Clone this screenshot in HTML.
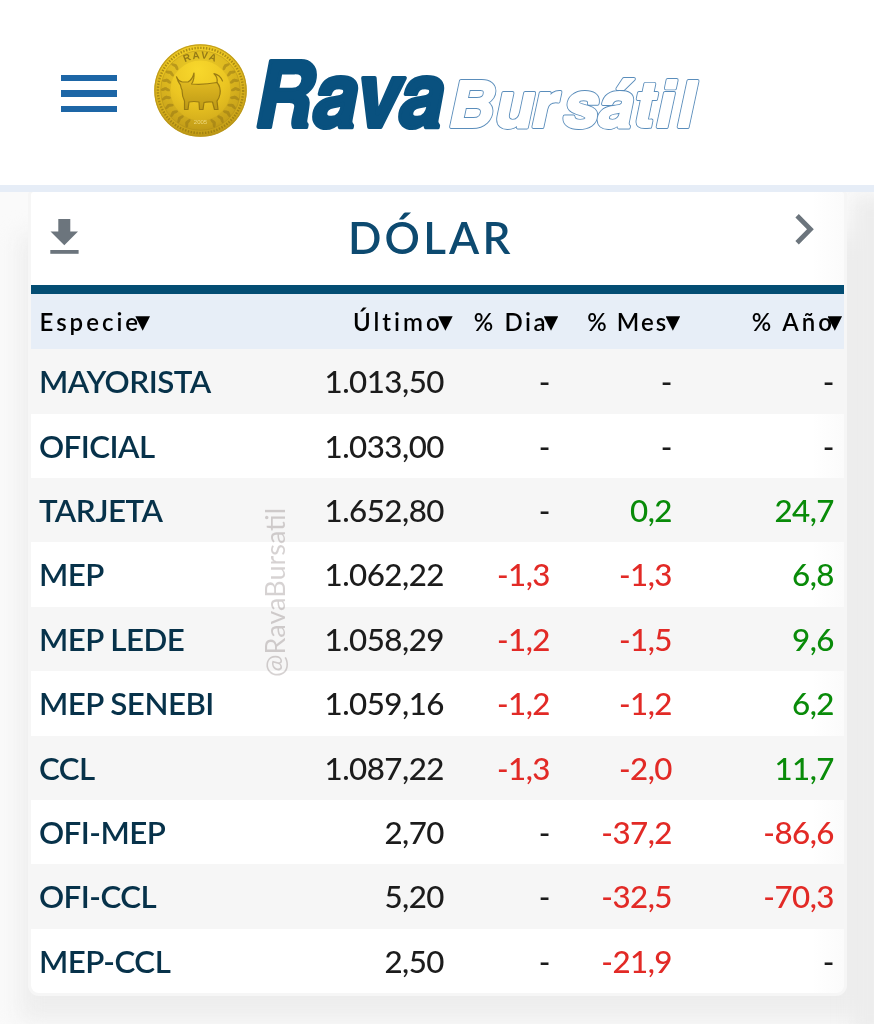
<!DOCTYPE html>
<html lang="es">
<head>
<meta charset="utf-8">
<title>Rava Bursátil - Dólar</title>
<style>
html,body{margin:0;padding:0;}
body{width:874px;height:1024px;position:relative;overflow:hidden;background:#fafafa;font-family:"Lato","Liberation Sans",sans-serif;}
.top{position:absolute;left:0;top:0;width:874px;height:185px;background:#fff;}
.sep{position:absolute;left:0;top:185px;width:874px;height:7px;background:#e6edf7;z-index:2;}
.top{z-index:2;}
.ham{position:absolute;left:61.2px;width:55.4px;height:6.2px;background:#1d66a6;}
.coin{position:absolute;left:154px;top:44px;}
.rava{position:absolute;left:250px;top:40px;}
.card{position:absolute;left:31px;top:192px;width:813px;height:801.3px;background:#fff;border-radius:3px 3px 8px 8px;overflow:hidden;box-shadow:0 0 0 3px #f6f6f6;}
.shd{position:absolute;left:20px;top:235px;width:900px;height:785px;background:#ededed;filter:blur(11px);}
.shdr{position:absolute;left:852px;top:196px;width:80px;height:840px;background:#ededed;filter:blur(9px);}
.fade{position:absolute;right:0;top:0;width:32px;height:801px;background:linear-gradient(90deg,rgba(240,240,240,0),rgba(240,240,240,.28));}
.dl{position:absolute;left:0;top:0;}
.title{position:absolute;left:317px;top:0;font-size:44px;letter-spacing:3.15px;color:#0d4a70;font-weight:600;line-height:91px;white-space:nowrap;}
.band{position:absolute;left:0;top:92.8px;width:813px;height:9.3px;background:#034d73;}
.hdr{position:absolute;left:0;top:102px;width:813px;height:55.3px;background:#e7eef7;}
.hdr span{position:absolute;top:0;line-height:56px;font-size:24px;letter-spacing:3px;color:#000;font-weight:600;white-space:nowrap;}
.tri{position:absolute;top:22.2px;width:14.6px;height:14.6px;background:#000;clip-path:polygon(0 0,100% 0,50% 100%);}
.row{position:absolute;left:0;width:813px;height:64.4px;}
.row:nth-child(odd){background:#f6f6f6;}
.row span{position:absolute;top:0;line-height:64.4px;font-size:31.3px;letter-spacing:-0.5px;white-space:nowrap;}
.n{left:7.9px;color:#07324a;font-weight:600;}
.c1{right:400px;color:#1c1c1c;font-weight:500;}
.c2{right:294px;font-weight:500;}
.c3{right:172px;font-weight:500;}
.c4{right:10px;font-weight:500;}
.r{color:#e22a26;}
.g{color:#098b09;}
.k{color:#1c1c1c;}
.wm{position:absolute;left:228.5px;top:484.5px;transform:rotate(-90deg);transform-origin:0 0;font-size:27px;line-height:30px;color:rgba(50,30,30,.2);white-space:nowrap;}
</style>
</head>
<body>
<div class="top">
  <div class="ham" style="top:74.9px"></div>
  <div class="ham" style="top:90.4px"></div>
  <div class="ham" style="top:105.8px"></div>
  <svg class="coin" viewBox="0 0 93 93" width="93" height="93">
    <defs>
      <radialGradient id="cg" cx="47%" cy="28%" r="75%">
        <stop offset="0" stop-color="#f8d82c"/>
        <stop offset="0.45" stop-color="#ebc522"/>
        <stop offset="0.8" stop-color="#d1aa1b"/>
        <stop offset="1" stop-color="#b89314"/>
      </radialGradient>
      <linearGradient id="bg2" x1="0" y1="0" x2="0" y2="1">
        <stop offset="0" stop-color="#e9c223"/>
        <stop offset="0.5" stop-color="#cfa81c"/>
        <stop offset="1" stop-color="#b39015"/>
      </linearGradient>
      <path id="arc" d="M14.5 46.5 A32 32 0 0 1 78.5 46.5"/>
    </defs>
    <circle cx="46.5" cy="46.5" r="46.3" fill="url(#cg)"/>
    <circle cx="46.5" cy="46.5" r="45.6" fill="none" stroke="#b8951a" stroke-width="1.2" opacity=".8"/>
    <circle cx="46.5" cy="46.5" r="42.6" fill="none" stroke="#957812" stroke-width="2.4" stroke-dasharray="1.4 1.5" opacity=".75"/>
    <circle cx="46.5" cy="46.5" r="35" fill="none" stroke="#8c7010" stroke-width="10" opacity=".13"/>
    <circle cx="46.5" cy="46.5" r="39.8" fill="none" stroke="#a98a18" stroke-width=".8" opacity=".5"/>
    <g fill="#937516" opacity=".5"><ellipse cx="32.8" cy="80.3" rx="1.5" ry="3.3" transform="rotate(-180 32.8 80.3)"/><ellipse cx="34.0" cy="77.6" rx="1.5" ry="3.3" transform="rotate(-136 34.0 77.6)"/><ellipse cx="25.0" cy="76.0" rx="1.5" ry="3.3" transform="rotate(-166 25.0 76.0)"/><ellipse cx="26.8" cy="73.6" rx="1.5" ry="3.3" transform="rotate(-122 26.8 73.6)"/><ellipse cx="18.5" cy="70.0" rx="1.5" ry="3.3" transform="rotate(-152 18.5 70.0)"/><ellipse cx="20.8" cy="68.0" rx="1.5" ry="3.3" transform="rotate(-108 20.8 68.0)"/><ellipse cx="13.7" cy="62.5" rx="1.5" ry="3.3" transform="rotate(-138 13.7 62.5)"/><ellipse cx="16.4" cy="61.2" rx="1.5" ry="3.3" transform="rotate(-94 16.4 61.2)"/><ellipse cx="10.8" cy="54.1" rx="1.5" ry="3.3" transform="rotate(-124 10.8 54.1)"/><ellipse cx="13.7" cy="53.5" rx="1.5" ry="3.3" transform="rotate(-80 13.7 53.5)"/><ellipse cx="10.0" cy="45.2" rx="1.5" ry="3.3" transform="rotate(-110 10.0 45.2)"/><ellipse cx="13.0" cy="45.3" rx="1.5" ry="3.3" transform="rotate(-66 13.0 45.3)"/><ellipse cx="11.4" cy="36.4" rx="1.5" ry="3.3" transform="rotate(-96 11.4 36.4)"/><ellipse cx="14.3" cy="37.3" rx="1.5" ry="3.3" transform="rotate(-52 14.3 37.3)"/><ellipse cx="14.9" cy="28.2" rx="1.5" ry="3.3" transform="rotate(-82 14.9 28.2)"/><ellipse cx="17.5" cy="29.7" rx="1.5" ry="3.3" transform="rotate(-38 17.5 29.7)"/><ellipse cx="20.2" cy="21.1" rx="1.5" ry="3.3" transform="rotate(-68 20.2 21.1)"/><ellipse cx="22.4" cy="23.2" rx="1.5" ry="3.3" transform="rotate(-24 22.4 23.2)"/><ellipse cx="60.2" cy="80.3" rx="1.5" ry="3.3" transform="rotate(180 60.2 80.3)"/><ellipse cx="59.0" cy="77.6" rx="1.5" ry="3.3" transform="rotate(136 59.0 77.6)"/><ellipse cx="68.0" cy="76.0" rx="1.5" ry="3.3" transform="rotate(166 68.0 76.0)"/><ellipse cx="66.2" cy="73.6" rx="1.5" ry="3.3" transform="rotate(122 66.2 73.6)"/><ellipse cx="74.5" cy="70.0" rx="1.5" ry="3.3" transform="rotate(152 74.5 70.0)"/><ellipse cx="72.2" cy="68.0" rx="1.5" ry="3.3" transform="rotate(108 72.2 68.0)"/><ellipse cx="79.3" cy="62.5" rx="1.5" ry="3.3" transform="rotate(138 79.3 62.5)"/><ellipse cx="76.6" cy="61.2" rx="1.5" ry="3.3" transform="rotate(94 76.6 61.2)"/><ellipse cx="82.2" cy="54.1" rx="1.5" ry="3.3" transform="rotate(124 82.2 54.1)"/><ellipse cx="79.3" cy="53.5" rx="1.5" ry="3.3" transform="rotate(80 79.3 53.5)"/><ellipse cx="83.0" cy="45.2" rx="1.5" ry="3.3" transform="rotate(110 83.0 45.2)"/><ellipse cx="80.0" cy="45.3" rx="1.5" ry="3.3" transform="rotate(66 80.0 45.3)"/><ellipse cx="81.6" cy="36.4" rx="1.5" ry="3.3" transform="rotate(96 81.6 36.4)"/><ellipse cx="78.7" cy="37.3" rx="1.5" ry="3.3" transform="rotate(52 78.7 37.3)"/><ellipse cx="78.1" cy="28.2" rx="1.5" ry="3.3" transform="rotate(82 78.1 28.2)"/><ellipse cx="75.5" cy="29.7" rx="1.5" ry="3.3" transform="rotate(38 75.5 29.7)"/><ellipse cx="72.8" cy="21.1" rx="1.5" ry="3.3" transform="rotate(68 72.8 21.1)"/><ellipse cx="70.6" cy="23.2" rx="1.5" ry="3.3" transform="rotate(24 70.6 23.2)"/></g>
    <text font-family="Liberation Sans, sans-serif" font-size="10" font-weight="bold" fill="#7a6212" opacity=".75" letter-spacing="1.5"><textPath href="#arc" startOffset="50%" text-anchor="middle">RAVA</textPath></text>
    <text x="46.5" y="80" text-anchor="middle" font-family="Liberation Sans, sans-serif" font-size="6" fill="#f4e08a" opacity=".85">2005</text>
    <g fill="url(#bg2)" stroke="#86690f" stroke-width="1.2" stroke-linejoin="round" stroke-linecap="round" opacity=".8">
      <path d="M22.5 32.8Q24.5 37.5 28.5 38L34 38Q38.5 35.5 40 29Q40.5 36 37.5 40Q50 41 63 38.5Q67 43 66 50Q65 55 63 57L64 65.5L60.5 65.5L58.5 58Q53 57.5 50 58.5L49 65.5L45.5 65.5L45 58Q40 57 35 58L34 65.5L30.5 65.5L30.5 57Q28 52 28 46Q27 44 26.5 41Q24 38 22.5 32.8Z"/>
      <path d="M63 38.5Q64 33 60 29.7Q66 31 68.5 37" fill="none"/>
    </g>
  </svg>
  <svg class="rava" width="460" height="100" viewBox="0 0 460 100">
    <text x="5" y="87.3" font-family="TeX Gyre Heros, Liberation Sans, sans-serif" font-weight="bold" font-style="italic" font-size="91" fill="#09517f" stroke="#09517f" stroke-width="4" stroke-linejoin="round" textLength="189" lengthAdjust="spacingAndGlyphs">Rava</text>
    <g font-family="TeX Gyre Heros, Liberation Sans, sans-serif" font-weight="bold" font-style="italic" font-size="63.5"><text x="198.5 245 282 313 348 383.5 406 427" y="87.3" fill="#5a8dbb" stroke="#5a8dbb" stroke-width="4.0" stroke-linejoin="round">Bursátil</text><text x="198.5 245 282 313 348 383.5 406 427" y="87.3" fill="#fff" stroke="#fff" stroke-width="2.2" stroke-linejoin="round">Bursátil</text></g>
  </svg>
</div>
<div class="sep"></div>
<div class="shd"></div>
<div class="shdr"></div>
<div class="card">
  <div class="fade"></div>
  <svg class="dl" width="813" height="93" viewBox="0 0 813 93">
    <path d="M27.3 27h12v12.6h7.7L33.3 53.2 19.5 39.6h7.8z" fill="#6c757d"/>
    <rect x="19.3" y="58" width="28.3" height="3.8" fill="#6c757d"/>
    <path d="M767.8 22.1L782.8 37.3L767.8 52.4L764.4 48.9L776 37.3L764.4 25.6z" fill="#6c757d"/>
  </svg>
  <div class="title">DÓLAR</div>
  <div class="band"></div>
  <div class="hdr">
    <span style="left:8.5px">Especie</span>
    <i class="tri" style="left:104.4px"></i><i class="tri" style="left:407.1px"></i><i class="tri" style="left:512.7px"></i><i class="tri" style="left:634.6px"></i><i class="tri" style="left:796.5px"></i>
    <span style="left:322px">Último</span>
    <span style="left:442.8px;letter-spacing:2.6px">% Dia</span>
    <span style="left:556.3px;letter-spacing:2.05px">% Mes</span>
    <span style="left:720.7px">% Año</span>
  </div>
  <div style="position:absolute;left:0;top:157.3px;width:813px;height:644px;">
    <div class="row" style="top:0.0px"><span class="n">MAYORISTA</span><span class="c1">1.013,50</span><span class="c2 k">-</span><span class="c3 k">-</span><span class="c4 k">-</span></div>
    <div class="row" style="top:64.4px"><span class="n">OFICIAL</span><span class="c1">1.033,00</span><span class="c2 k">-</span><span class="c3 k">-</span><span class="c4 k">-</span></div>
    <div class="row" style="top:128.8px"><span class="n">TARJETA</span><span class="c1">1.652,80</span><span class="c2 k">-</span><span class="c3 g">0,2</span><span class="c4 g">24,7</span></div>
    <div class="row" style="top:193.2px"><span class="n">MEP</span><span class="c1">1.062,22</span><span class="c2 r">-1,3</span><span class="c3 r">-1,3</span><span class="c4 g">6,8</span></div>
    <div class="row" style="top:257.6px"><span class="n">MEP LEDE</span><span class="c1">1.058,29</span><span class="c2 r">-1,2</span><span class="c3 r">-1,5</span><span class="c4 g">9,6</span></div>
    <div class="row" style="top:322.0px"><span class="n">MEP SENEBI</span><span class="c1">1.059,16</span><span class="c2 r">-1,2</span><span class="c3 r">-1,2</span><span class="c4 g">6,2</span></div>
    <div class="row" style="top:386.4px"><span class="n">CCL</span><span class="c1">1.087,22</span><span class="c2 r">-1,3</span><span class="c3 r">-2,0</span><span class="c4 g">11,7</span></div>
    <div class="row" style="top:450.8px"><span class="n">OFI-MEP</span><span class="c1">2,70</span><span class="c2 k">-</span><span class="c3 r">-37,2</span><span class="c4 r">-86,6</span></div>
    <div class="row" style="top:515.2px"><span class="n">OFI-CCL</span><span class="c1">5,20</span><span class="c2 k">-</span><span class="c3 r">-32,5</span><span class="c4 r">-70,3</span></div>
    <div class="row" style="top:579.6px"><span class="n">MEP-CCL</span><span class="c1">2,50</span><span class="c2 k">-</span><span class="c3 r">-21,9</span><span class="c4 k">-</span></div>
  </div>
  <div class="wm">@RavaBursatil</div>
</div>
</body>
</html>
